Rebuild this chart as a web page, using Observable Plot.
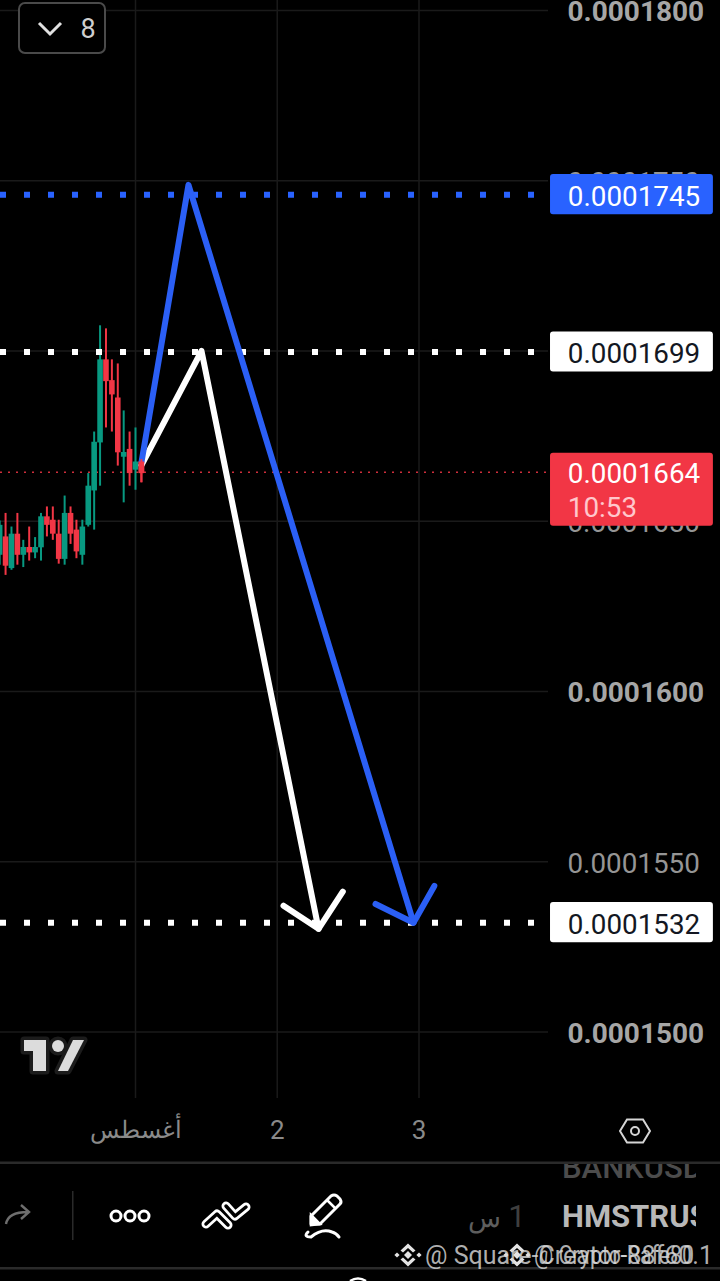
<!DOCTYPE html>
<html>
<head>
<meta charset="utf-8">
<script src="https://cdn.jsdelivr.net/npm/d3@7"></script>
<script src="https://cdn.jsdelivr.net/npm/@observablehq/plot@0.6"></script>
<style>
html,body{margin:0;padding:0;background:#000;width:720px;height:1281px;overflow:hidden}
#wrap{position:relative;width:720px;height:1281px;font-family:Roboto,sans-serif}
#wrap>svg.overlay{position:absolute;left:0;top:0}
</style>
</head>
<body>
<div id="wrap"></div>
<script>
// prices are in units of 1e-7; hours are counted from 1 August 00:00
const hours = [-23,-22,-21,-20,-19,-18,-17,-16,-15,-14,-13,-12,-11,-10,-9,-8,-7,-6,-5,-4,-3,-2,-1,0,1];
const highs = [1650.1,1652.3,1648.3,1652.3,1644.4,1648.3,1645.2,1652.3,1654.2,1654.2,1650.3,1657.4,1654.2,1650.3,1650.3,1664.0,1676.2,1707.4,1706.5,1697.4,1696.2,1682.4,1676.2,1677.4,1668.1];
const lows = [1637.1,1634.1,1635.6,1637.1,1636.4,1638.3,1639.0,1638.3,1645.4,1644.4,1637.4,1637.1,1643.2,1639.0,1637.1,1648.3,1647.4,1660.3,1677.4,1676.2,1666.2,1655.4,1660.3,1659.1,1661.3];
const bodyTops = [1648.8,1645.4,1646.2,1646.2,1642.3,1642.3,1642.3,1651.3,1651.3,1650.3,1646.2,1652.3,1652.3,1647.4,1648.3,1660.3,1673.2,1697.4,1697.4,1691.3,1686.2,1670.2,1671.1,1667.4,1667.4];
const bodyBottoms = [1640.0,1636.8,1636.1,1640.0,1640.0,1640.7,1640.7,1642.2,1648.8,1646.2,1638.8,1638.8,1646.2,1641.0,1640.0,1648.8,1658.9,1673.0,1691.0,1687.1,1670.1,1668.8,1664.0,1665.0,1664.0];
const rising = [1,0,1,0,1,0,1,1,0,0,0,1,0,0,1,1,1,1,0,0,0,1,0,1,0];

const bluePathHours = [1.02,8.97,47.07];
const bluePathPrices = [1667.4,1748.8,1532.1];
const blueHeadHours = [40.64,47.07,50.6];
const blueHeadPrices = [1537.6,1532.1,1542.9];
const whitePathHours = [1.02,11.18,30.99];
const whitePathPrices = [1666.5,1700.0,1530.3];
const whiteHeadHours = [25.06,30.99,35.1];
const whiteHeadPrices = [1537.1,1530.3,1541.2];

const boldTicks = [1800,1600,1500];
const plainTicks = [1750,1650,1550];
const gridTicks = [1800,1750,1700,1650,1600,1550,1500];
const dayTicks = [0,24,48];
const monthTick = [0];
const monthLabel = "أغسطس";
const dateTicks = [24,48];
const dateLabels = ["2","3"];
const priceTag = v => "0.000" + v;

const levels = [
  {price:1745.9,label:"0.0001745",fill:"#2962ff",color:"#ffffff",dots:"#2962ff"},
  {price:1699.7,label:"0.0001699",fill:"#ffffff",color:"#131722",dots:"#ffffff"},
  {price:1532.1,label:"0.0001532",fill:"#ffffff",color:"#131722",dots:"#ffffff"}
];
const lastPrice = 1664.4, lastLabel = "0.0001664", countdown = "10:53";

const candles = hours.map((h,i)=>({h,high:highs[i],low:lows[i],top:bodyTops[i],bot:bodyBottoms[i],up:!!rising[i]}));
const GREEN="#089981", RED="#f23645";
const zip=(xs,ys)=>xs.map((x,i)=>({x,y:ys[i]}));
const TAG_L=70.27, TAG_R=97.85, TEXT_X=73.2;
const wickOf=d=>d.up?GREEN:RED;

const chart = Plot.plot({
  width:720,height:1281,
  marginTop:0,marginLeft:0,marginRight:172,marginBottom:183,
  style:{background:"#000",fontFamily:"Roboto,sans-serif",overflow:"visible"},
  x:{domain:[-135/5.906,(548-135)/5.906]},
  y:{domain:[1600-(1098-691)/3.405,1600+691/3.405]},
  marks:[
    Plot.ruleY(gridTicks,{stroke:"#1a1a1a",strokeWidth:1.5}),
    Plot.ruleX(dayTicks,{stroke:"#1a1a1a",strokeWidth:1.5}),
    Plot.axisY(plainTicks,{anchor:"right",tickSize:0,tickPadding:19,label:null,tickFormat:priceTag,fontSize:27.8,fill:"#959595",textAnchor:"start",dy:2}),
    Plot.axisY(boldTicks,{anchor:"right",tickSize:0,tickPadding:19,label:null,tickFormat:priceTag,fontSize:28,fontWeight:700,fill:"#a6a6a6",textAnchor:"start",dy:2}),
    Plot.axisX(monthTick,{anchor:"bottom",tickSize:0,tickPadding:22,label:null,tickFormat:()=>monthLabel,fontSize:24,fill:"#8a8a8a"}),
    Plot.axisX(dateTicks,{anchor:"bottom",tickSize:0,tickPadding:22,label:null,tickFormat:(d,i)=>dateLabels[i],fontSize:26,fill:"#8a8a8a"}),
    Plot.ruleY([lastPrice],{x1:-135/5.906,x2:71,stroke:RED,strokeWidth:1.6,strokeDasharray:"2 6",strokeOpacity:.85}),
    Plot.ruleX(candles,{x:"h",y1:"low",y2:"high",stroke:wickOf,strokeWidth:2}),
    Plot.ruleX(candles,{x:"h",y1:"bot",y2:"top",stroke:wickOf,strokeWidth:5.6}),
    ...levels.map(l=>Plot.ruleY([l.price],{x1:-135/5.906,x2:69,stroke:l.dots,strokeWidth:6,strokeDasharray:"6 18"})),
    Plot.line(zip(whitePathHours,whitePathPrices),{x:"x",y:"y",stroke:"#fff",strokeWidth:6,curve:"linear",strokeLinejoin:"round",strokeLinecap:"round"}),
    Plot.line(zip(whiteHeadHours,whiteHeadPrices),{x:"x",y:"y",stroke:"#fff",strokeWidth:6,curve:"linear",strokeLinejoin:"round"}),
    Plot.line(zip(bluePathHours,bluePathPrices),{x:"x",y:"y",stroke:"#2b5ff5",strokeWidth:6,curve:"linear",strokeLinejoin:"round",strokeLinecap:"round"}),
    Plot.line(zip(blueHeadHours,blueHeadPrices),{x:"x",y:"y",stroke:"#2b5ff5",strokeWidth:6,curve:"linear",strokeLinejoin:"round"}),
    // the newest candle sits on top of the drawings that start from it
    Plot.ruleX(candles.slice(-1),{x:"h",y1:"low",y2:"high",stroke:wickOf,strokeWidth:2}),
    Plot.ruleX(candles.slice(-1),{x:"h",y1:"bot",y2:"top",stroke:wickOf,strokeWidth:5.6}),
    Plot.rect(levels,{x1:TAG_L,x2:TAG_R,y1:d=>d.price-5.9,y2:d=>d.price+5.9,fill:"fill",rx:3}),
    Plot.rect([lastPrice],{x1:TAG_L,x2:TAG_R,y1:lastPrice-15.9,y2:lastPrice+5.6,fill:RED,rx:3}),
    Plot.text(levels,{x:TEXT_X,y:"price",dy:2,text:"label",fill:"color",fontSize:27.8,textAnchor:"start"}),
    Plot.text([lastLabel],{x:TEXT_X,y:lastPrice,dy:2,text:d=>d,fill:"#fff",fontSize:27.8,textAnchor:"start"}),
    Plot.text([countdown],{x:TEXT_X,y:lastPrice-9.7,dy:2.5,text:d=>d,fill:"#ffc7cc",fontSize:27.8,textAnchor:"start"})
  ]
});
const wrap=document.getElementById("wrap");
wrap.appendChild(chart);

const binance = (x,y) => `<g transform="translate(${x} ${y})" fill="#e4e4e4">
  <path d="M0 -4 L4 0 L0 4 L-4 0Z"/><path d="M-11 -2.6 L-8.4 0 L-11 2.6 L-13.6 0Z"/><path d="M11 -2.6 L13.6 0 L11 2.6 L8.4 0Z"/>
  <path d="M0 -11.5 L7.5 -4.5 L5 -2.5 L0 -7 L-5 -2.5 L-7.5 -4.5Z"/><path d="M0 11.5 L7.5 4.5 L5 2.5 L0 7 L-5 2.5 L-7.5 4.5Z"/></g>`;

// Screen furniture around the chart: the app's own controls and the watermark
wrap.insertAdjacentHTML("beforeend",`
<svg class="overlay" width="720" height="1281" viewBox="0 0 720 1281" font-family="Roboto,sans-serif">
  <rect x="19" y="3" width="86" height="50" rx="6" fill="#000" stroke="#4a4a4a" stroke-width="2"/>
  <path d="M39 23 L50 34 L61 23" fill="none" stroke="#e0e0e0" stroke-width="3"/>
  <text x="88" y="38" font-size="27" fill="#cfcfcf" text-anchor="middle">8</text>
  <g fill="#dcdcdc" stroke="#1c1c1c" stroke-width="7" paint-order="stroke" stroke-linejoin="round">
    <path d="M24 1040H46V1071H33V1051H24Z"/>
    <circle cx="58" cy="1046" r="6"/>
    <path d="M73 1040H84L68 1071H58Z"/>
  </g>
  <path d="M627 1119.5 L643 1119.5 L650 1131 L643 1142.5 L627 1142.5 L620 1131 Z" fill="none" stroke="#d5d5d5" stroke-width="2"/>
  <circle cx="635" cy="1131" r="4" fill="none" stroke="#d5d5d5" stroke-width="2"/>
  <rect x="0" y="1161.5" width="720" height="2.5" fill="#2a2a2a"/>
  <path d="M6 1224 Q8 1212 28 1212 M21 1205 L29 1212 L21 1219" fill="none" stroke="#6e6e6e" stroke-width="2.4"/>
  <rect x="72" y="1191" width="1.5" height="49" fill="#2a2a2a"/>
  <g fill="none" stroke="#fff" stroke-width="3"><circle cx="116" cy="1216" r="5"/><circle cx="130" cy="1216" r="5"/><circle cx="144" cy="1216" r="5"/></g>
  <g fill="none" stroke-linecap="round" stroke-linejoin="round">
    <path d="M206 1224 L217 1214 L228 1225" stroke="#fff" stroke-width="9"/>
    <path d="M206 1224 L217 1214 L228 1225" stroke="#000" stroke-width="3.5"/>
    <path d="M226 1206 L235 1216 L246 1207" stroke="#fff" stroke-width="9"/>
    <path d="M226 1206 L235 1216 L246 1207" stroke="#000" stroke-width="3.5"/>
  </g>
  <path d="M311 1216 L331 1196 Q334 1194 337 1196 L340 1199 Q342 1202 340 1204 L320 1224 L311 1224 Z" fill="none" stroke="#fff" stroke-width="3" stroke-linejoin="round"/>
  <path d="M311 1215 L320 1224 L311 1225Z M327 1200 L336 1209" fill="#fff" stroke="#fff" stroke-width="2.5"/>
  <path d="M308 1232 Q303 1237 311 1237 Q322 1228 332 1232 Q336 1233 339 1237" fill="none" stroke="#fff" stroke-width="3" stroke-linecap="round"/>
  <text x="501" y="1227" font-size="27" fill="#5e5e5e" text-anchor="end" font-family="'Noto Sans',Roboto,sans-serif">س</text>
  <text x="517" y="1227" font-size="31" fill="#3f3f3f" text-anchor="middle">1</text>
  <svg x="560" y="1164" width="136" height="76" viewBox="560 1164 136 76">
    <text x="562" y="1178" font-size="31" font-weight="500" fill="#4c4c4c">BANKUSDT</text>
    <text x="562" y="1227" font-size="31" font-weight="700" fill="#b8b8b8">HMSTRUSDT</text>
  </svg>
  <rect x="0" y="1267" width="720" height="2.5" fill="#2a2a2a"/>
  ${binance(408,1255)}
  ${binance(517,1255)}
  <g font-size="25" fill="#d8d8d8" fill-opacity=".82">
    <text x="425" y="1264">@ Square-Creator-88f60.1</text>
    <text x="534" y="1264" textLength="160" lengthAdjust="spacingAndGlyphs">@ Crypto-Rafe80</text>
  </g>
  <path d="M350 1281 Q358 1276 366 1281" fill="none" stroke="#fff" stroke-width="2.5"/>
</svg>`);
</script>
</body>
</html>
